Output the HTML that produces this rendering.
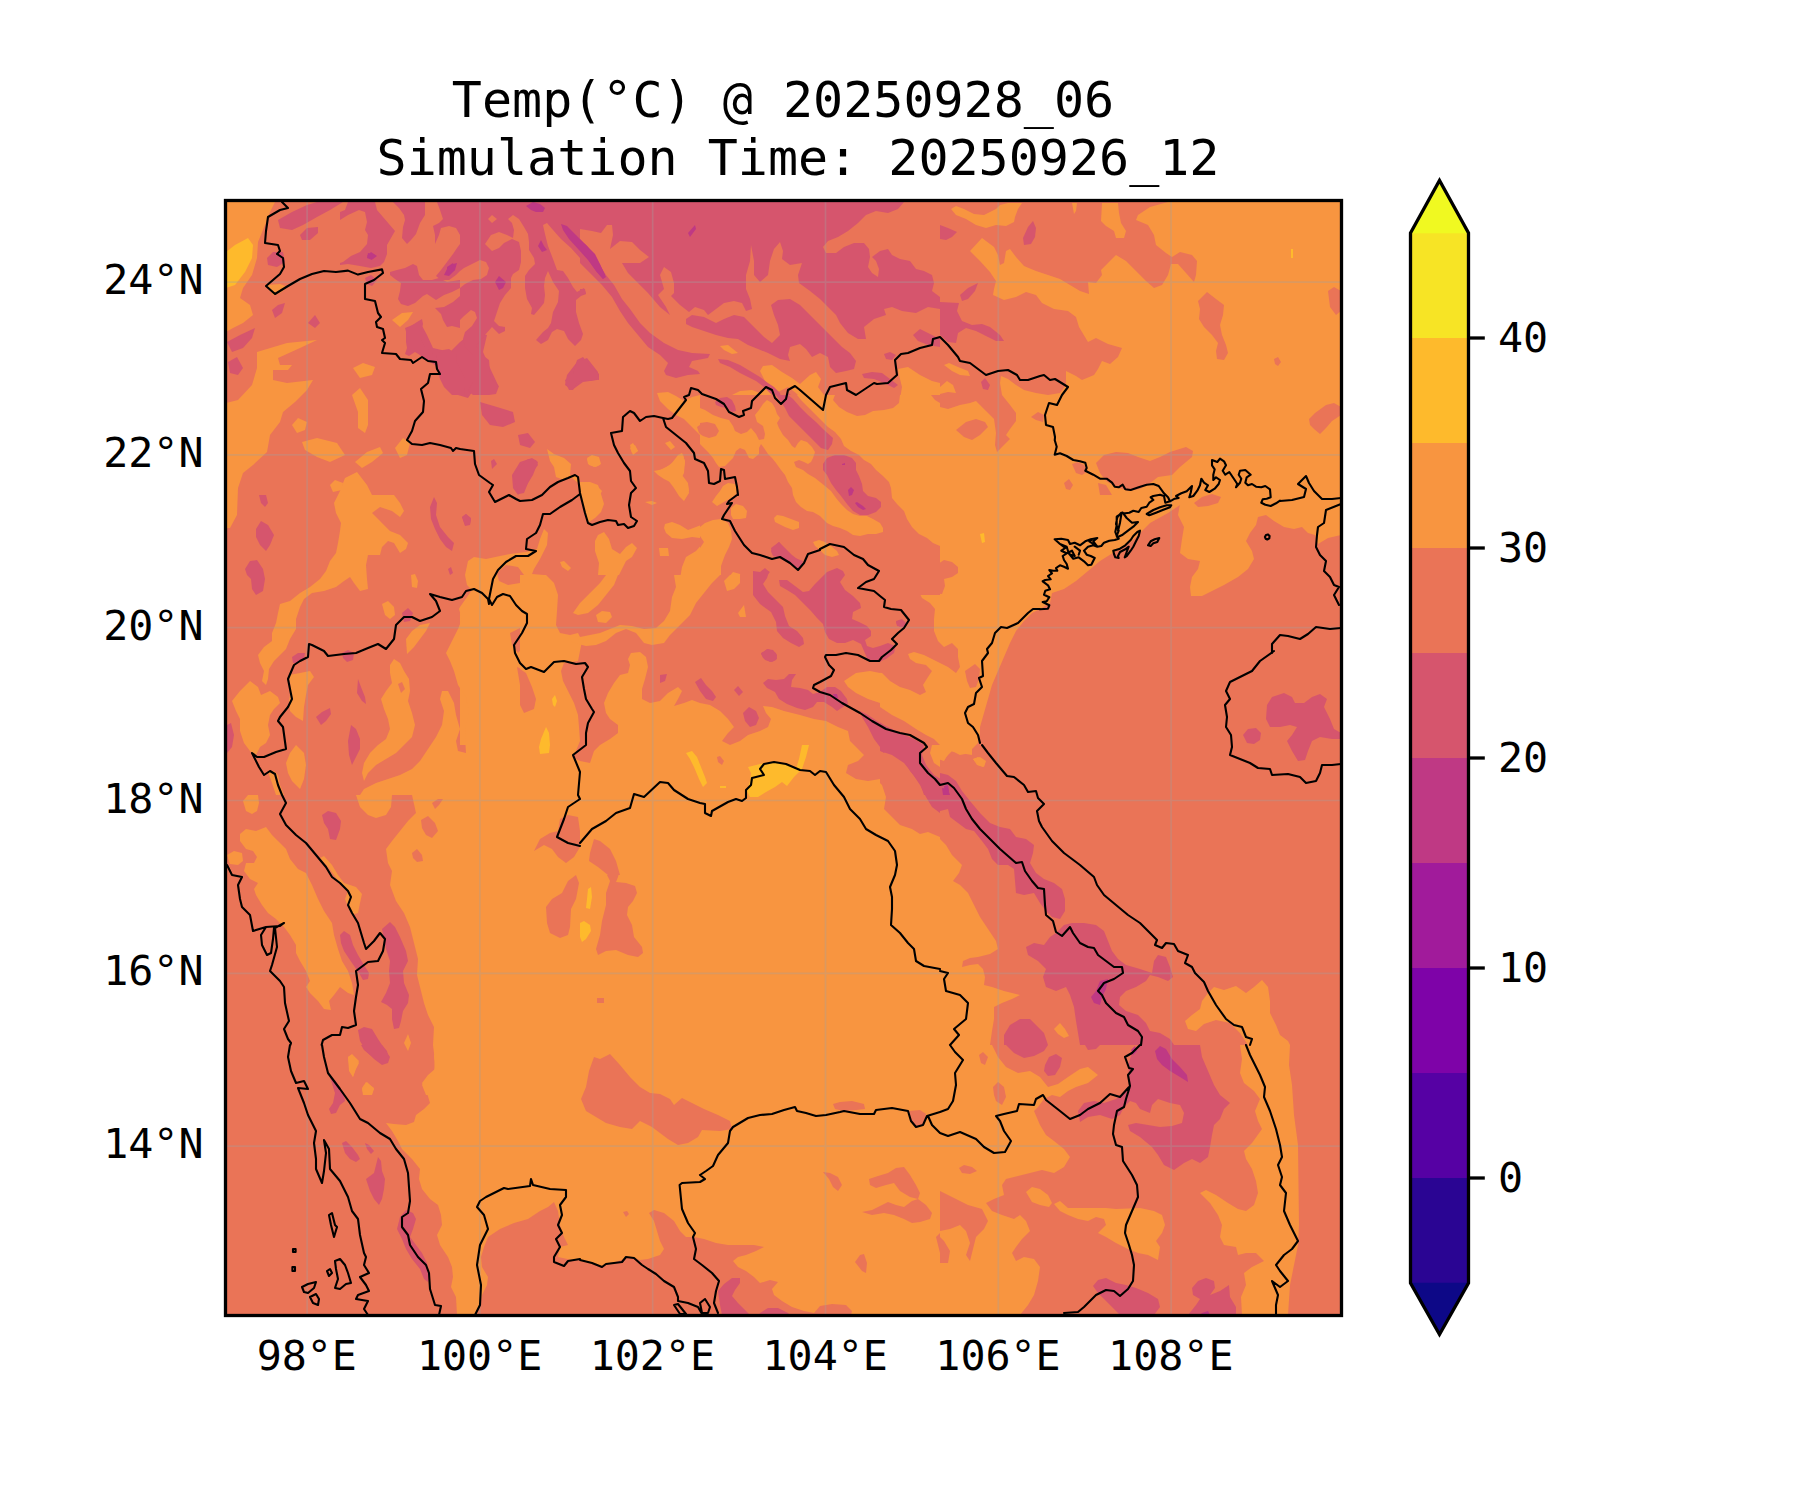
<!DOCTYPE html>
<html><head><meta charset="utf-8"><title>Temp map</title>
<style>
html,body{margin:0;padding:0;background:#fff;}
body{width:1800px;height:1500px;overflow:hidden;}
svg{display:block;}
text{font-family:"DejaVu Sans Mono","Liberation Mono",monospace;fill:#000;}
.t{font-size:50px;text-anchor:middle;}
.k{font-size:41.67px;}
</style></head><body>
<svg width="1800" height="1500" viewBox="0 0 1800 1500">
<rect width="1800" height="1500" fill="#fff"/>
<clipPath id="c"><rect x="225.5" y="200.5" width="1116.0" height="1115.0"/></clipPath>
<g clip-path="url(#c)">
<rect x="225.5" y="200.5" width="1116.0" height="1115.0" fill="#ea7457"/>
<path d="M226 202 275 202 270 212 265 225 258 242 257 258 252 275 243 288 240 298 250 305 253 315 243 323 233 328 226 332Z" fill="#f89540"/>
<path d="M267 285 280 284 288 287 280 293 273 295Z" fill="#f89540"/>
<path d="M257 352 287 343 317 340 300 348 278 358 280 365 292 365 288 370 273 370 273 380 287 383 313 380 307 390 295 402 283 412 280 422 270 435 267 452 253 465 243 473 238 488 237 515 230 528 226 528 226 403 238 400 252 385 257 368Z" fill="#f89540"/>
<path d="M292 425 298 418 307 422 305 430 297 433Z" fill="#f89540"/>
<path d="M302 442 317 438 337 443 345 455 330 462 317 457 305 450Z" fill="#f89540"/>
<path d="M355 462 367 452 380 447 383 453 372 462 362 468Z" fill="#f89540"/>
<path d="M395 448 403 438 410 443 407 455 400 458Z" fill="#f89540"/>
<path d="M352 395 360 388 368 400 368 425 365 433 358 428 358 412Z" fill="#f89540"/>
<path d="M353 368 363 363 375 367 372 375 360 378Z" fill="#f89540"/>
<path d="M392 320 402 313 413 312 408 320 400 327Z" fill="#f89540"/>
<path d="M330 485 335 480 343 483 342 490 333 492Z" fill="#f89540"/>
<path d="M940 745 972 745 970 753 960 755 952 751 946 757 940 759Z" fill="#f89540"/>
<path d="M973 759 978 757 985 763 983 767 977 765Z" fill="#f89540"/>
<path d="M940 839 946 845 952 855 962 865 959 873 953 881 960 885 968 893 974 905 980 917 988 929 996 941 998 949 990 954 978 957 970 958 963 961 962 967 970 965 978 964 983 969 985 977 984 985 992 987 1004 991 1020 995 1012 999 1002 1003 994 1007 994 1019 992 1031 990 1045 940 1045Z" fill="#f89540"/>
<path d="M1214 987 1224 990 1236 986 1246 993 1254 987 1262 980 1268 987 1270 1001 1270 1013 1276 1025 1280 1035 1288 1041 1290 1045 1248 1045 1240 1033 1230 1023 1216 1020 1204 1024 1196 1031 1188 1029 1185 1021 1192 1015 1200 1009 1202 1001 1208 993Z" fill="#f89540"/>
<path d="M1054 1029 1060 1023 1065 1029 1069 1036 1064 1038 1058 1034Z" fill="#f89540"/>
<path d="M435 1045 434 1057 435 1069 428 1075 422 1083 427 1093 430 1103 424 1109 416 1115 414 1122 406 1125 394 1124 386 1123 392 1131 398 1141 402 1149 412 1159 420 1169 419 1179 422 1189 430 1199 438 1205 441 1215 442 1225 437 1235 440 1245 448 1257 452 1267 453 1277 451 1287 456 1297 457 1315 475 1315 480 1305 482 1295 487 1285 488 1277 482 1267 481 1257 484 1247 488 1237 500 1229 514 1223 528 1219 540 1211 548 1207 554 1202 558 1211 560 1225 564 1237 568 1245 560 1247 558 1257 572 1260 580 1259 580 1045Z" fill="#f89540"/>
<path d="M348 1057 352 1054 359 1061 356 1067 353 1077 350 1071Z" fill="#f89540"/>
<path d="M362 1088 366 1082 374 1088 372 1093 363 1092Z" fill="#f89540"/>
<path d="M580 1045 940 1045 940 1315 580 1315Z" fill="#f89540"/>
<path d="M940 1045 992 1045 998 1057 1006 1067 1018 1073 1030 1071 1040 1077 1048 1087 1058 1084 1068 1077 1080 1069 1088 1067 1098 1075 1088 1083 1076 1087 1068 1091 1060 1097 1052 1095 1044 1099 1038 1107 1034 1111 1040 1125 1046 1135 1054 1141 1064 1149 1070 1157 1064 1167 1054 1173 1042 1170 1030 1173 1018 1176 1006 1179 1002 1185 1004 1195 994 1199 986 1203 992 1211 1002 1215 1014 1219 1020 1215 1026 1221 1030 1231 1022 1239 1016 1247 1012 1253 1016 1261 1024 1257 1034 1259 1040 1267 1038 1281 1034 1295 1028 1305 1020 1315 940 1315Z" fill="#f89540"/>
<path d="M1026 1192 1032 1187 1040 1189 1048 1195 1052 1203 1049 1207 1040 1205 1032 1202Z" fill="#f89540"/>
<path d="M1054 1204 1060 1201 1068 1208 1080 1208 1096 1208 1106 1208 1116 1209 1140 1208 1154 1211 1162 1215 1165 1225 1162 1233 1156 1241 1160 1247 1158 1260 1148 1255 1138 1253 1128 1249 1116 1243 1106 1237 1098 1233 1106 1225 1104 1219 1096 1217 1088 1221 1078 1219 1068 1215 1060 1211Z" fill="#f89540"/>
<path d="M1240 1045 1290 1045 1289 1065 1292 1085 1294 1115 1298 1145 1299 1225 1298 1245 1294 1265 1290 1285 1288 1315 1242 1315 1241 1297 1246 1285 1244 1273 1252 1267 1264 1261 1256 1253 1246 1253 1238 1255 1236 1247 1224 1245 1220 1237 1222 1225 1218 1215 1210 1203 1200 1193 1206 1190 1216 1195 1228 1203 1238 1209 1246 1211 1254 1205 1258 1193 1256 1181 1252 1169 1246 1159 1244 1151 1252 1143 1262 1129 1258 1121 1255 1111 1260 1099 1254 1091 1244 1083 1240 1073 1242 1059Z" fill="#f89540"/>
<path d="M547 449 554 454 564 458 571 464 570 475 577 475 580 482 590 482 598 485 601 494 604 504 601 512 595 518 589 522 585 515 583 505 581 495 578 483 572 478 564 480 556 477 554 467 550 461Z" fill="#f89540"/>
<path d="M587 458 592 455 599 457 601 464 596 467 589 465Z" fill="#f89540"/>
<path d="M630 448 635 445 638 451 633 455Z" fill="#f89540"/>
<path d="M658 471 670 465 678 457 683 454 685 463 682 475 688 483 689 493 684 501 679 496 674 488 668 480 662 477Z" fill="#f89540"/>
<path d="M645 502 652 501 657 503 652 505Z" fill="#f89540"/>
<path d="M713 501 722 489 728 485 730 493 726 503 729 505 740 504 746 509 746 519 738 522 730 524 731 533 730 545 724 557 722 569 714 583 704 595 696 605 688 615 680 625 672 635 666 643 652 645 646 649 644 639 636 631 650 629 660 625 668 617 672 609 670 601 676 589 680 579 682 567 686 557 696 551 703 543 700 538 692 537 682 539 672 538 666 533 664 528 665 524 672 522 680 525 688 530 696 527 706 523 716 518 722 513 720 507Z" fill="#f89540"/>
<path d="M598 535 604 532 609 539 612 549 620 554 626 547 632 543 637 548 632 557 626 561 620 573 614 585 606 595 596 603 588 611 580 615 574 611 576 605 584 597 592 587 598 575 599 563 595 551 595 541Z" fill="#f89540"/>
<path d="M659 548 668 548 669 556 660 556Z" fill="#f89540"/>
<path d="M596 616 602 611 610 611 612 617 606 623 598 622Z" fill="#f89540"/>
<path d="M560 562 564 561 571 568 568 571 562 567Z" fill="#f89540"/>
<path d="M725 581 732 573 740 573 741 579 736 587 729 590Z" fill="#f89540"/>
<path d="M738 613 744 605 746 617 741 617Z" fill="#f89540"/>
<path d="M774 516 782 515 798 522 799 529 790 529 778 524Z" fill="#f89540"/>
<path d="M460 607 472 590 467 585 465 575 468 561 474 557 486 559 500 556 510 554 526 552 537 549 540 539 544 529 548 533 547 545 540 559 534 569 532 574 544 575 554 581 558 593 558 605 557 619 558 631 554 643 544 649 539 655 540 660 552 661 564 657 576 653 588 647 600 645 608 639 616 631 626 628 633 632 630 638 618 643 608 647 600 649 588 651 578 655 580 663 584 681 585 701 588 721 586 745 460 745Z" fill="#f89540"/>
<path d="M604 703 608 695 612 683 620 673 628 675 631 672 627 661 630 653 638 651 646 657 648 667 644 679 641 691 642 701 652 705 664 701 672 691 678 686 683 691 678 700 674 707 682 705 692 701 708 703 720 709 728 717 734 727 728 731 722 741 726 745 620 745 618 733 610 725 604 713Z" fill="#f89540"/>
<path d="M762 705 772 707 784 713 800 717 820 721 820 745 772 745 770 733 772 721 766 713Z" fill="#f89540"/>
<path d="M720 346 728 345 738 353 732 354 724 350Z" fill="#f89540"/>
<path d="M657 393 668 392 676 396 684 401 692 397 700 395 710 399 718 405 728 411 734 405 732 395 740 391 752 390 760 393 767 387 764 379 760 371 763 366 772 365 782 372 792 378 800 384 810 375 816 372 821 379 818 387 824 395 834 405 844 410 854 415 864 417 876 411 888 409 898 407 900 399 902 387 899 375 898 369 908 367 920 375 932 381 940 383 940 495 792 495 784 485 776 475 772 463 764 455 756 447 750 453 746 461 740 455 736 447 730 453 724 461 716 453 708 443 700 435 692 427 684 419 676 415 668 409 660 401Z" fill="#f89540"/>
<path d="M587 459 592 455 599 459 600 465 594 467 588 464Z" fill="#f89540"/>
<path d="M630 445 633 443 638 451 632 453Z" fill="#f89540"/>
<path d="M665 443 670 441 675 447 671 450Z" fill="#f89540"/>
<path d="M654 471 664 469 672 463 678 455 682 453 685 461 684 473 680 481 688 485 689 491 680 491 672 483 664 479 658 475Z" fill="#f89540"/>
<path d="M580 483 588 482 596 485 602 491 600 495 580 495Z" fill="#f89540"/>
<path d="M718 473 726 471 734 477 738 495 720 495 716 483Z" fill="#f89540"/>
<path d="M1168 202 1150 207 1138 215 1136 220 1148 225 1154 235 1156 245 1166 253 1172 257 1180 252 1192 255 1197 261 1196 275 1194 282 1186 273 1178 264 1171 264 1168 275 1162 285 1154 288 1146 281 1136 271 1126 261 1116 255 1108 263 1101 270 1102 275 1096 283 1088 282 1089 294 1080 291 1070 285 1060 279 1048 275 1036 271 1024 266 1016 257 1010 249 1006 251 1004 263 1000 265 998 255 994 247 982 238 970 251 980 261 990 272 996 281 994 289 993 295 1004 300 1016 297 1026 292 1036 295 1042 303 1054 309 1068 311 1076 317 1079 327 1088 342 1096 338 1108 344 1122 348 1118 357 1110 364 1102 361 1098 369 1094 375 1082 380 1076 376 1066 371 1066 385 1060 393 1048 395 1036 393 1024 390 1016 385 1008 379 1001 376 1000 383 1002 395 1010 405 1016 413 1016 421 1010 429 1006 435 1010 439 1002 447 997 452 995 445 996 433 994 419 986 411 976 401 970 403 960 405 948 409 940 407 940 495 1300 495 1300 202Z" fill="#f89540"/>
<path d="M951 209 956 206 964 209 974 214 984 215 996 209 1000 205 1008 203 1022 203 1018 209 1015 217 1014 222 1006 226 996 225 986 228 976 225 966 219 956 215Z" fill="#f89540"/>
<path d="M1072 203 1077 203 1076 211 1074 214Z" fill="#f89540"/>
<path d="M1102 203 1118 203 1119 213 1121 223 1126 231 1124 238 1116 238 1114 231 1106 226 1101 221Z" fill="#f89540"/>
<path d="M944 365 949 363 958 367 968 371 970 376 960 375 952 371Z" fill="#f89540"/>
<path d="M940 387 947 381 953 385 956 393 948 392 940 394Z" fill="#f89540"/>
<path d="M886 495 1180 495 1180 505 1168 513 1150 523 1140 533 1132 541 1116 551 1100 561 1088 571 1076 581 1064 589 1052 593 1050 603 1040 609 1032 613 1024 621 1016 631 1010 643 1004 657 998 671 992 685 988 699 984 713 980 727 980 735 978 743 972 749 972 755 960 753 950 751 944 761 938 759 936 751 940 745 934 739 926 735 916 729 904 721 892 715 880 707 870 699 860 693 850 687 844 681 852 678 864 677 870 672 882 673 890 681 900 687 910 690 920 695 926 692 923 685 928 677 932 671 926 665 916 663 910 659 908 654 914 652 924 655 936 661 948 667 956 673 960 667 958 657 958 649 952 643 944 647 938 641 934 631 934 619 935 609 930 603 922 598 920 594 932 593 942 594 945 586 944 579 952 577 958 573 958 567 952 562 944 560 938 564 931 565 926 561 932 555 936 549 932 543 924 539 916 533 910 523 906 513 900 505 896 501Z" fill="#f89540"/>
<path d="M820 495 826 495 832 501 838 511 846 519 856 525 868 529 880 528 884 531 878 535 866 536 852 540 840 545 828 547 820 543Z" fill="#f89540"/>
<path d="M820 549 828 548 832 552 826 555 820 555Z" fill="#f89540"/>
<path d="M820 731 830 729 840 735 848 731 854 741 860 751 866 761 860 765 852 763 846 769 850 777 860 779 872 783 880 789 882 795 820 795Z" fill="#f89540"/>
<path d="M973 759 980 757 986 761 984 767 978 765Z" fill="#f89540"/>
<path d="M1176 491 1341 491 1341 535 1328 538 1318 544 1315 535 1308 533 1302 527 1294 529 1284 527 1274 521 1266 515 1258 517 1256 525 1250 533 1246 541 1252 551 1254 559 1248 569 1238 577 1224 585 1212 591 1202 596 1191 596 1190 587 1192 577 1198 569 1200 561 1188 559 1180 553 1182 539 1184 527 1178 515 1180 504Z" fill="#f89540"/>
<path d="M1300 195 1341 195 1341 495 1300 495Z" fill="#f89540"/>
<path d="M227 495 236 495 235 507 233 521 227 523Z" fill="#f89540"/>
<path d="M334 503 340 491 345 478 357 472 367 485 372 495 394 495 400 503 404 511 400 517 392 511 380 507 372 513 380 521 390 531 400 535 408 543 406 549 400 553 394 543 388 541 382 547 380 555 368 555 366 565 367 579 368 589 360 591 354 583 350 577 344 581 336 587 324 591 312 593 304 599 300 607 296 619 296 629 290 639 286 649 280 655 274 661 269 669 268 679 266 685 262 681 264 671 260 663 258 655 264 647 272 641 272 633 276 623 278 613 280 604 290 601 300 593 310 587 320 579 326 571 330 561 336 553 338 543 340 531 341 523 336 513Z" fill="#f89540"/>
<path d="M411 575 415 574 418 581 417 588 412 587Z" fill="#f89540"/>
<path d="M382 604 388 601 394 607 395 615 390 619 385 615Z" fill="#f89540"/>
<path d="M406 639 412 631 420 625 430 623 426 631 420 639 414 647 407 654Z" fill="#f89540"/>
<path d="M232 701 240 691 250 681 258 687 261 695 270 691 278 697 280 703 274 709 270 715 268 725 270 735 266 743 260 747 256 755 250 751 244 743 240 731 240 719 236 711Z" fill="#f89540"/>
<path d="M289 675 300 673 310 671 314 677 308 685 306 695 304 707 303 721 296 717 290 711 289 701 291 689Z" fill="#f89540"/>
<path d="M286 763 290 753 296 745 304 753 306 765 304 779 300 789 292 781 288 773Z" fill="#f89540"/>
<path d="M390 665 394 659 400 663 404 671 409 679 410 691 408 701 412 713 415 725 412 737 404 745 396 753 386 759 376 765 368 773 364 781 362 773 364 763 370 753 378 745 386 739 390 729 388 719 384 709 381 699 386 691 392 683 390 673Z" fill="#f89540"/>
<path d="M460 607 459 609 462 619 458 629 452 641 446 653 450 661 454 671 458 685 466 697 469 713 466 725 465 737 466 753 458 751 456 741 460 729 456 715 454 703 448 691 442 691 440 699 444 711 442 725 436 737 428 749 420 761 412 769 400 775 388 779 376 783 364 789 360 795 580 795 580 607Z" fill="#f89540"/>
<path d="M268 772 274 771 278 775 280 785 284 795 276 795 272 783Z" fill="#f89540"/>
<path d="M412 795 416 813 408 821 400 831 392 841 386 849 388 863 392 871 390 885 396 901 404 913 410 927 414 943 418 959 417 975 420 987 424 1003 428 1015 434 1027 433 1045 435 1061 434 1073 426 1079 422 1085 426 1095 580 1095 580 795Z" fill="#f89540"/>
<path d="M356 795 392 795 391 807 386 815 376 818 368 815 360 807Z" fill="#f89540"/>
<path d="M243 801 248 795 258 795 259 803 257 811 252 814 246 811Z" fill="#f89540"/>
<path d="M227 855 234 851 242 853 243 861 238 865 230 864Z" fill="#f89540"/>
<path d="M240 834 246 829 256 831 266 827 272 835 278 841 286 849 290 859 298 869 306 873 312 885 318 899 324 911 332 923 334 935 338 949 342 961 348 971 352 983 354 995 348 993 340 987 334 995 329 1001 331 1010 324 1009 318 1001 310 993 306 987 310 981 306 971 300 961 296 953 296 945 290 935 284 927 276 919 268 913 262 905 256 895 254 889 258 883 250 879 244 871 246 863 254 863 257 857 253 851 246 849 240 841Z" fill="#f89540"/>
<path d="M320 858 324 856 332 865 338 875 344 883 356 887 362 894 360 903 358 913 352 915 348 907 345 899 348 891 340 883 334 875 328 867Z" fill="#f89540"/>
<path d="M348 1057 352 1055 359 1063 356 1069 353 1077 349 1071Z" fill="#f89540"/>
<path d="M404 1043 408 1034 411 1043 408 1051Z" fill="#f89540"/>
<path d="M362 1089 367 1082 374 1089 372 1095 363 1095Z" fill="#f89540"/>
<path d="M580 745 940 745 940 1045 580 1045Z" fill="#f89540"/>
<path d="M581 1099 586 1087 589 1071 594 1057 600 1059 610 1054 620 1065 630 1077 640 1087 650 1093 660 1094 670 1099 674 1105 682 1098 692 1103 704 1109 718 1115 730 1121 732 1129 720 1131 702 1130 698 1137 688 1143 678 1145 668 1139 660 1133 652 1127 640 1121 632 1129 620 1127 606 1123 596 1117 586 1111Z" fill="#ea7457"/>
<path d="M580 1261 592 1264 602 1266 612 1263 624 1259 632 1257 640 1260 648 1259 660 1255 664 1249 660 1241 657 1231 654 1221 649 1213 654 1210 664 1213 674 1221 680 1231 686 1237 694 1237 704 1239 716 1243 728 1245 740 1245 754 1245 764 1247 756 1251 746 1255 738 1257 733 1261 738 1267 746 1271 754 1277 760 1283 770 1280 778 1282 772 1289 774 1295 782 1301 792 1307 804 1311 814 1313 820 1306 832 1304 846 1305 852 1311 851 1315 580 1315Z" fill="#ea7457"/>
<path d="M823 1172 830 1173 838 1177 842 1185 838 1191 833 1187 829 1179Z" fill="#ea7457"/>
<path d="M869 1179 878 1176 888 1173 896 1168 904 1167 910 1175 916 1185 920 1193 918 1199 910 1197 900 1191 894 1183 886 1185 876 1188 870 1185Z" fill="#ea7457"/>
<path d="M862 1212 872 1210 882 1205 888 1202 896 1205 904 1207 912 1201 918 1199 926 1205 932 1213 930 1219 920 1222 912 1223 904 1219 894 1215 884 1213 872 1215Z" fill="#ea7457"/>
<path d="M855 1262 860 1255 864 1254 867 1263 866 1273 862 1271Z" fill="#ea7457"/>
<path d="M833 1104 840 1102 852 1101 864 1104 865 1109 856 1110 844 1111 835 1109Z" fill="#ea7457"/>
<path d="M909 1111 920 1110 926 1114 924 1123 918 1127 912 1123Z" fill="#ea7457"/>
<path d="M936 1237 940 1233 940 1253Z" fill="#ea7457"/>
<path d="M623 1212 627 1211 629 1214 626 1217Z" fill="#ea7457"/>
<path d="M940 1191 956 1199 968 1205 982 1209 988 1221 984 1229 976 1237 970 1261 966 1255 970 1243 966 1231 960 1225 950 1229 940 1231Z" fill="#ea7457"/>
<path d="M940 1237 944 1241 950 1251 948 1263 940 1263Z" fill="#ea7457"/>
<path d="M959 1168 964 1165 972 1167 977 1171 970 1174 962 1173Z" fill="#ea7457"/>
<path d="M979 1055 983 1052 988 1057 985 1065 981 1063Z" fill="#ea7457"/>
<path d="M993 1087 998 1082 1004 1087 1006 1097 1002 1105 996 1101 994 1095Z" fill="#ea7457"/>
<path d="M497 573 506 565 518 567 524 575 520 583 508 585 499 581Z" fill="#ea7457"/>
<path d="M510 633 520 628 540 629 536 637 526 643 518 653 512 645Z" fill="#ea7457"/>
<path d="M517 667 526 671 532 685 536 699 534 709 524 713 521 701 520 685Z" fill="#ea7457"/>
<path d="M560 669 568 665 580 665 583 681 584 701 588 721 586 745 578 745 577 725 572 713 568 705 569 695 566 685 562 677Z" fill="#ea7457"/>
<path d="M697 427 704 422 714 425 719 433 714 438 704 437 699 433Z" fill="#ea7457"/>
<path d="M772 393 780 391 788 387 796 393 806 403 816 415 826 427 836 439 840 447 834 453 822 449 810 439 798 427 788 417 780 407 774 401Z" fill="#ea7457"/>
<path d="M732 423 740 419 750 421 760 427 764 435 760 441 750 437 740 431 734 428Z" fill="#ea7457"/>
<path d="M818 463 828 451 844 451 858 457 864 469 866 483 868 495 834 495 826 483 820 473Z" fill="#ea7457"/>
<path d="M792 461 800 459 810 465 820 475 826 485 830 495 820 495 812 485 802 475 794 467Z" fill="#ea7457"/>
<path d="M956 430 966 422 976 419 985 422 988 427 980 435 972 440 964 437Z" fill="#ea7457"/>
<path d="M1072 464 1078 462 1084 465 1088 471 1082 475 1076 473Z" fill="#ea7457"/>
<path d="M1096 463 1104 455 1116 452 1128 453 1138 457 1150 461 1160 457 1170 452 1186 447 1193 451 1192 457 1180 467 1172 475 1158 477 1150 483 1140 489 1128 491 1116 487 1106 481 1100 473Z" fill="#ea7457"/>
<path d="M1098 483 1106 485 1112 495 1100 495Z" fill="#ea7457"/>
<path d="M1064 483 1069 479 1073 485 1070 490 1066 489Z" fill="#ea7457"/>
<path d="M1198 301 1207 292 1216 299 1224 305 1223 315 1220 325 1222 335 1226 345 1228 353 1224 360 1217 359 1216 351 1218 343 1212 335 1204 327 1199 319 1200 309Z" fill="#ea7457"/>
<path d="M1274 359 1278 357 1281 362 1278 366 1275 364Z" fill="#ea7457"/>
<path d="M1031 417 1038 412 1044 415 1043 422 1036 420Z" fill="#ea7457"/>
<path d="M965 671 975 664 980 669 979 679 976 687 970 688 967 681Z" fill="#ea7457"/>
<path d="M832 495 888 495 890 507 884 519 870 523 856 521 844 513 836 503Z" fill="#ea7457"/>
<path d="M1309 419 1315 413 1326 405 1334 403 1341 407 1341 415 1332 421 1326 428 1320 434 1314 429 1310 425Z" fill="#ea7457"/>
<path d="M1328 291 1334 287 1341 291 1341 311 1336 315 1330 307Z" fill="#ea7457"/>
<path d="M1194 503 1202 497 1212 494 1221 497 1218 503 1208 506 1198 507Z" fill="#ea7457"/>
<path d="M398 684 402 682 405 689 401 693Z" fill="#ea7457"/>
<path d="M421 820 428 816 435 823 438 831 432 838 426 835 422 828Z" fill="#ea7457"/>
<path d="M412 853 417 849 422 855 423 861 417 862 413 858Z" fill="#ea7457"/>
<path d="M432 803 438 799 443 799 439 805 435 809Z" fill="#ea7457"/>
<path d="M534 851 538 841 548 835 558 833 560 821 568 815 578 817 580 835 580 847 578 849 574 857 566 862 558 859 553 849 546 844 540 847Z" fill="#ea7457"/>
<path d="M546 907 552 899 562 893 568 881 576 875 579 883 576 899 571 909 570 927 568 935 560 938 550 933 547 923Z" fill="#ea7457"/>
<path d="M856 745 864 751 860 757 848 763 846 771 854 777 864 781 876 779 882 785 886 797 884 809 892 817 900 825 912 829 920 834 928 832 940 837 940 745Z" fill="#ea7457"/>
<path d="M580 745 594 745 592 753 588 761 580 759Z" fill="#ea7457"/>
<path d="M589 861 595 839 604 841 612 847 617 859 620 869 618 877 616 882 626 883 635 886 637 893 633 901 628 907 627 915 632 925 634 937 642 947 643 953 638 957 628 955 616 950 606 951 598 955 596 949 600 935 602 921 606 905 606 893 610 881 606 873 598 865Z" fill="#ea7457"/>
<path d="M716 759 720 756 724 761 723 765 718 763Z" fill="#ea7457"/>
<path d="M768 745 780 745 778 751 772 750Z" fill="#ea7457"/>
<path d="M597 998 604 998 604 1003 597 1003Z" fill="#ea7457"/>
<path d="M932 745 940 745 940 767 934 763 930 753Z" fill="#f89540"/>
<path d="M227 342 240 335 255 328 252 338 243 348 232 352Z" fill="#d6556d"/>
<path d="M228 362 237 357 243 368 238 375 230 373Z" fill="#d6556d"/>
<path d="M272 310 278 305 285 303 282 313 275 318Z" fill="#d6556d"/>
<path d="M308 323 315 315 320 323 315 328Z" fill="#d6556d"/>
<path d="M278 220 292 212 307 205 317 202 343 202 330 210 317 217 303 225 292 230 280 228Z" fill="#d6556d"/>
<path d="M300 235 307 228 318 227 318 233 310 240 302 240Z" fill="#d6556d"/>
<path d="M267 258 273 252 283 252 285 262 277 267 268 265Z" fill="#d6556d"/>
<path d="M480 402 497 407 513 412 515 422 503 427 490 425 482 415Z" fill="#d6556d"/>
<path d="M518 435 528 433 535 442 530 448 520 445Z" fill="#d6556d"/>
<path d="M512 475 520 462 532 458 538 462 533 475 525 488 518 495 513 488Z" fill="#d6556d"/>
<path d="M567 375 577 362 587 358 598 372 597 380 583 382 572 390 565 385Z" fill="#d6556d"/>
<path d="M405 328 420 322 427 335 433 348 450 352 460 342 473 332 487 335 483 352 490 368 498 385 490 393 477 385 468 398 458 395 453 378 440 368 423 358 410 345Z" fill="#d6556d"/>
<path d="M940 773 948 775 956 781 962 791 970 801 980 813 990 823 1000 827 1010 829 1016 837 1026 839 1034 845 1033 853 1030 863 1036 873 1044 879 1054 883 1062 889 1065 899 1065 911 1060 919 1052 917 1046 911 1040 903 1034 893 1024 895 1016 893 1015 881 1014 869 1008 865 998 865 992 859 988 849 982 841 974 831 966 829 958 823 950 817 948 809 940 811Z" fill="#d6556d"/>
<path d="M1026 947 1034 943 1044 945 1050 937 1056 933 1064 925 1072 923 1084 923 1096 925 1104 931 1108 941 1112 951 1118 959 1126 965 1140 969 1152 973 1154 961 1158 955 1166 957 1170 967 1173 977 1168 981 1158 977 1150 975 1146 981 1136 987 1126 991 1120 997 1119 1005 1126 1011 1138 1015 1146 1023 1150 1031 1160 1033 1170 1039 1174 1045 1080 1045 1078 1033 1076 1021 1074 1007 1070 995 1066 987 1056 991 1046 987 1043 977 1046 969 1038 961 1028 955Z" fill="#d6556d"/>
<path d="M1004 1035 1010 1025 1020 1019 1030 1019 1036 1025 1044 1033 1048 1045 1004 1045Z" fill="#d6556d"/>
<path d="M1267 705 1272 697 1284 693 1292 697 1295 703 1304 703 1312 697 1320 694 1327 699 1324 707 1330 719 1334 729 1341 733 1341 739 1332 739 1320 737 1312 741 1308 751 1305 760 1298 761 1292 751 1287 741 1292 735 1297 727 1290 725 1280 727 1270 727 1266 719Z" fill="#d6556d"/>
<path d="M1243 735 1248 729 1256 728 1261 733 1260 740 1254 744 1247 743Z" fill="#d6556d"/>
<path d="M361 1045 382 1045 387 1051 389 1059 384 1064 378 1061 370 1055 364 1050Z" fill="#d6556d"/>
<path d="M329 1109 333 1103 335 1093 332 1083 330 1077 338 1085 344 1095 345 1101 340 1105 336 1113 331 1114Z" fill="#d6556d"/>
<path d="M342 1143 346 1141 352 1147 358 1155 360 1159 356 1162 350 1159 345 1153Z" fill="#d6556d"/>
<path d="M365 1143 369 1145 374 1151 371 1154 367 1149Z" fill="#d6556d"/>
<path d="M366 1179 374 1173 378 1157 381 1161 382 1171 385 1179 384 1189 382 1199 379 1205 374 1199 370 1191Z" fill="#d6556d"/>
<path d="M400 1217 406 1210 413 1213 416 1219 413 1229 410 1237 416 1245 422 1253 427 1263 429 1273 428 1282 424 1279 420 1269 412 1259 406 1249 402 1239 397 1229Z" fill="#d6556d"/>
<path d="M718 1291 724 1284 732 1278 740 1278 740 1283 735 1290 732 1296 738 1303 746 1311 750 1315 722 1315 720 1305Z" fill="#d6556d"/>
<path d="M760 1313 768 1308 778 1308 788 1313 790 1315 759 1315Z" fill="#d6556d"/>
<path d="M1078 1111 1084 1103 1094 1101 1104 1103 1116 1099 1126 1091 1130 1083 1128 1065 1132 1053 1140 1045 1200 1045 1202 1057 1208 1071 1214 1085 1220 1095 1230 1103 1224 1109 1220 1119 1214 1125 1212 1135 1210 1147 1208 1157 1200 1163 1192 1159 1184 1163 1174 1170 1164 1165 1158 1155 1152 1147 1140 1137 1130 1131 1128 1125 1136 1123 1148 1125 1160 1127 1172 1126 1182 1123 1184 1113 1180 1105 1170 1103 1158 1099 1152 1105 1150 1113 1140 1109 1136 1103 1130 1101 1124 1107 1120 1115 1112 1119 1100 1115 1088 1117 1080 1122Z" fill="#d6556d"/>
<path d="M1006 1045 1048 1045 1044 1051 1034 1056 1024 1058 1014 1053Z" fill="#d6556d"/>
<path d="M1085 1045 1100 1045 1096 1049 1088 1050Z" fill="#d6556d"/>
<path d="M1045 1065 1049 1057 1056 1054 1062 1058 1060 1067 1055 1075 1048 1076 1044 1071Z" fill="#d6556d"/>
<path d="M1093 1286 1098 1280 1106 1278 1116 1283 1126 1285 1136 1288 1148 1293 1158 1299 1160 1307 1154 1315 1120 1315 1112 1307 1104 1299 1098 1293Z" fill="#d6556d"/>
<path d="M1192 1288 1198 1281 1206 1278 1214 1281 1215 1288 1210 1295 1220 1291 1229 1285 1230 1297 1236 1307 1236 1315 1188 1315 1196 1305 1200 1299 1193 1295Z" fill="#d6556d"/>
<path d="M460 202 580 202 580 258 571 248 561 239 553 230 547 223 543 225 545 234 548 246 553 259 557 270 563 271 568 278 573 287 577 292 584 288 586 294 581 296 576 300 576 312 579 323 583 334 581 340 575 346 568 339 564 331 557 329 552 332 548 340 541 344 536 340 543 332 548 328 551 323 553 312 558 302 559 291 553 282 548 271 545 278 544 286 545 295 544 303 540 308 534 315 531 314 532 308 527 299 525 288 525 276 529 270 535 264 534 258 529 250 529 242 528 234 524 227 519 219 513 215 508 219 512 223 514 230 513 238 507 235 499 232 491 235 485 244 492 251 499 248 504 243 512 239 519 242 521 251 521 262 519 270 513 274 511 278 511 288 505 295 500 303 497 312 494 321 499 326 505 327 505 331 499 334 492 327 484 336 476 346 481 354 489 360 490 372 491 379 499 386 496 394 489 395 473 395 468 391 473 382 473 368 473 355 465 347 463 339 465 332 472 326 477 318 475 312 471 310 464 316 460 320 460 288 465 284 473 280 481 279 487 275 489 268 486 262 480 260 472 264 464 268 460 271Z" fill="#d6556d"/>
<path d="M565 380 573 374 577 360 583 357 588 363 595 370 599 374 599 380 592 379 584 379 577 383 573 390 569 390 567 386Z" fill="#d6556d"/>
<path d="M348 202 375 202 377 210 383 217 389 224 395 231 391 238 387 245 387 254 384 262 380 266 371 268 360 266 348 264 340 265 340 212 345 210Z" fill="#d6556d"/>
<path d="M393 202 425 202 425 215 420 223 416 234 411 240 407 244 402 238 403 227 405 220 404 215 399 208Z" fill="#d6556d"/>
<path d="M437 202 460 202 460 235 456 228 449 226 441 228 439 235 435 244 435 235 433 226 439 223 443 219 440 210Z" fill="#d6556d"/>
<path d="M460 244 457 248 453 254 447 262 441 270 436 276 441 280 449 280 456 275 460 271Z" fill="#d6556d"/>
<path d="M390 272 397 270 405 268 413 264 417 266 419 275 423 280 432 280 439 278 447 282 460 280 460 288 452 292 444 295 436 300 427 294 423 296 415 303 408 306 401 304 398 299 400 291 401 283 395 279 390 275Z" fill="#d6556d"/>
<path d="M435 308 444 307 453 302 460 296 460 328 452 326 447 327 443 320 441 314Z" fill="#d6556d"/>
<path d="M406 331 411 326 417 322 422 319 423 324 421 332 421 340 425 347 432 352 433 355 427 359 420 355 415 352 409 356 405 354 407 348 406 342Z" fill="#d6556d"/>
<path d="M436 355 443 350 449 349 456 354 457 363 461 371 465 379 465 387 464 395 452 395 444 387 440 379 437 368 438 362Z" fill="#d6556d"/>
<path d="M365 278 371 275 377 280 372 286 367 284Z" fill="#d6556d"/>
<path d="M513 475 520 467 528 459 536 460 538 465 532 473 528 483 524 493 519 494 516 485Z" fill="#d6556d"/>
<path d="M491 461 494 459 497 464 492 469Z" fill="#d6556d"/>
<path d="M462 517 466 514 471 519 470 525 465 526Z" fill="#d6556d"/>
<path d="M771 549 778 543 784 549 792 555 800 561 804 567 798 570 790 563 780 559 773 557Z" fill="#d6556d"/>
<path d="M754 577 764 569 770 573 762 581 760 591 766 599 778 605 784 615 790 623 798 631 804 639 800 647 790 645 782 639 777 631 778 621 772 613 762 605 756 597 754 585Z" fill="#d6556d"/>
<path d="M778 583 786 580 796 585 806 593 816 589 820 585 820 619 812 613 804 605 794 599 784 593Z" fill="#d6556d"/>
<path d="M761 653 768 649 776 653 777 660 770 662 763 658Z" fill="#d6556d"/>
<path d="M660 675 667 674 665 681 660 683Z" fill="#d6556d"/>
<path d="M695 683 701 678 705 685 712 691 716 697 714 701 708 700 702 693 697 688Z" fill="#d6556d"/>
<path d="M734 690 739 686 743 692 739 696 735 694Z" fill="#d6556d"/>
<path d="M743 713 749 707 756 711 759 717 756 725 750 727 745 721Z" fill="#d6556d"/>
<path d="M762 683 772 678 784 679 792 675 798 674 794 681 788 687 796 691 808 689 816 693 820 697 820 709 808 707 796 703 784 699 774 693 766 689Z" fill="#d6556d"/>
<path d="M580 202 580 229 592 231 601 233 607 225 612 225 613 235 610 249 620 241 632 242 640 250 649 257 640 263 622 263 628 273 638 283 648 293 660 307 670 315 666 307 658 295 664 289 660 275 664 267 671 272 674 283 674 293 671 296 680 305 689 312 695 307 704 310 708 315 716 309 724 303 734 301 742 303 746 311 752 309 750 299 746 289 746 275 750 261 751 245 754 261 754 275 760 282 768 275 770 261 774 249 780 242 783 251 782 259 790 265 802 263 798 275 799 283 810 291 820 299 828 307 836 315 840 323 848 333 858 339 866 339 864 327 874 319 886 315 884 309 892 307 902 311 916 313 928 307 940 309 940 297 932 291 934 283 932 275 924 271 916 269 910 261 900 259 892 255 888 249 880 251 872 257 876 261 879 269 878 277 872 273 868 267 870 257 869 249 864 243 854 243 844 247 836 253 826 253 823 247 828 241 838 237 848 231 858 223 866 215 876 211 888 213 898 209 904 202Z" fill="#d6556d"/>
<path d="M580 239 588 247 596 259 606 275 614 285 622 299 630 309 640 323 650 333 664 343 678 350 692 353 710 354 708 358 692 361 689 367 698 371 700 374 688 375 676 378 666 375 664 371 668 363 660 355 648 347 638 335 628 323 620 311 612 297 602 285 592 275 580 263Z" fill="#d6556d"/>
<path d="M686 319 692 315 704 317 716 323 724 319 734 315 744 317 750 323 756 329 764 337 772 343 780 335 778 325 774 315 771 305 778 300 790 299 800 305 808 313 818 323 826 331 834 339 842 347 850 353 856 361 854 369 846 371 836 373 830 367 828 357 820 353 812 357 806 349 800 344 790 347 788 355 790 361 780 359 768 353 758 349 748 345 738 339 728 338 716 335 704 331 692 327 686 324Z" fill="#d6556d"/>
<path d="M718 359 728 360 740 365 750 371 760 377 768 383 774 387 780 393 782 403 788 401 788 393 794 397 802 405 810 415 820 427 830 437 834 443 830 449 820 445 810 435 800 425 792 417 784 409 778 401 772 395 764 387 756 381 748 377 740 373 730 367 720 363Z" fill="#d6556d"/>
<path d="M716 397 724 397 732 401 736 407 738 413 732 411 724 405 718 402Z" fill="#d6556d"/>
<path d="M823 461 830 454 842 455 854 459 858 469 859 481 860 495 838 495 832 485 826 475 822 467Z" fill="#d6556d"/>
<path d="M580 359 588 365 598 373 599 379 590 381 580 380Z" fill="#d6556d"/>
<path d="M862 374 872 372 882 373 890 379 898 385 894 388 884 383 874 379 864 378Z" fill="#d6556d"/>
<path d="M884 354 890 352 896 355 892 360 886 359Z" fill="#d6556d"/>
<path d="M913 335 920 329 928 333 940 339 940 347 928 345 918 341Z" fill="#d6556d"/>
<path d="M580 289 585 289 586 294 580 295Z" fill="#d6556d"/>
<path d="M940 225 948 228 957 232 952 237 946 240 940 239Z" fill="#d6556d"/>
<path d="M1023 238 1028 227 1033 221 1036 228 1035 237 1031 244 1024 245Z" fill="#d6556d"/>
<path d="M960 295 968 288 978 283 975 291 968 299 962 301Z" fill="#d6556d"/>
<path d="M940 302 959 303 957 311 962 321 972 325 982 324 990 327 1000 335 1004 341 996 341 986 336 976 331 966 328 958 333 956 343 948 342 940 335Z" fill="#d6556d"/>
<path d="M981 382 985 378 990 385 988 390 983 389Z" fill="#d6556d"/>
<path d="M840 495 880 495 882 505 876 513 866 516 856 513 846 505Z" fill="#d6556d"/>
<path d="M820 575 828 571 836 569 840 579 848 589 856 597 862 605 854 613 852 621 860 627 868 631 872 639 868 647 876 651 886 649 896 645 894 653 886 659 876 663 866 661 856 653 846 647 836 643 828 643 820 644Z" fill="#d6556d"/>
<path d="M896 621 902 619 906 623 903 627 897 626Z" fill="#d6556d"/>
<path d="M820 687 830 685 840 690 848 699 844 707 836 710 828 703 820 697Z" fill="#d6556d"/>
<path d="M862 711 872 717 884 725 900 733 914 739 924 745 922 755 926 765 934 775 944 781 956 785 964 795 924 795 920 783 910 771 904 759 900 749 890 745 884 753 878 749 876 737 870 725Z" fill="#d6556d"/>
<path d="M259 495 266 495 268 503 265 507 261 503Z" fill="#d6556d"/>
<path d="M256 529 261 521 268 525 274 535 270 545 266 551 260 545 256 537Z" fill="#d6556d"/>
<path d="M245 569 250 561 257 560 263 569 265 579 263 591 256 595 252 589 251 579 247 575Z" fill="#d6556d"/>
<path d="M430 507 434 497 437 503 436 515 440 527 448 537 454 543 452 551 446 547 440 539 435 529 431 519Z" fill="#d6556d"/>
<path d="M462 517 466 514 471 518 470 524 465 525Z" fill="#d6556d"/>
<path d="M448 569 451 567 453 573 450 575Z" fill="#d6556d"/>
<path d="M402 613 408 608 413 613 410 621 404 622Z" fill="#d6556d"/>
<path d="M292 657 298 653 305 653 304 659 297 663 293 663Z" fill="#d6556d"/>
<path d="M342 653 348 650 354 653 353 660 347 662 343 658Z" fill="#d6556d"/>
<path d="M357 693 358 679 361 687 365 697 366 704 362 701Z" fill="#d6556d"/>
<path d="M316 717 322 712 330 708 331 714 326 721 321 725Z" fill="#d6556d"/>
<path d="M348 741 351 725 356 729 360 739 360 749 356 757 352 765 349 755Z" fill="#d6556d"/>
<path d="M227 725 231 723 234 735 232 747 227 753Z" fill="#d6556d"/>
<path d="M322 815 328 811 336 813 341 821 340 829 336 840 330 839 328 829 324 823Z" fill="#d6556d"/>
<path d="M340 935 344 931 350 935 353 945 358 955 364 965 369 973 368 979 363 980 359 973 352 963 344 951 341 943Z" fill="#d6556d"/>
<path d="M382 929 390 922 395 927 400 937 406 951 408 961 403 971 404 983 409 995 408 1003 403 1011 401 1021 399 1028 394 1029 392 1019 392 1009 387 1005 381 1002 386 993 390 983 389 971 390 961 386 949 384 939Z" fill="#d6556d"/>
<path d="M358 1030 364 1027 372 1029 378 1039 386 1051 390 1057 388 1063 382 1065 374 1059 366 1051 360 1041Z" fill="#d6556d"/>
<path d="M330 1077 336 1081 340 1089 344 1095 336 1095Z" fill="#d6556d"/>
<path d="M876 745 920 745 922 757 928 769 938 783 940 787 940 813 932 807 926 797 920 785 912 773 904 763 892 755 880 751Z" fill="#d6556d"/>
<path d="M488 219 492 215 497 219 492 223Z" fill="#ea7457"/>
<path d="M340 220 348 215 359 210 365 212 367 222 365 230 368 235 367 244 360 252 351 256 343 262 340 263Z" fill="#ea7457"/>
<path d="M368 253 375 255 372 260 367 258Z" fill="#bf3984"/>
<path d="M447 267 453 263 455 270 448 275Z" fill="#bf3984"/>
<path d="M944 786 948 785 949 791 945 793Z" fill="#bf3984"/>
<path d="M1100 981 1108 979 1106 989 1102 997 1100 1005 1094 1003 1091 997 1096 991Z" fill="#bf3984"/>
<path d="M1155 1051 1160 1046 1166 1049 1172 1059 1180 1067 1187 1075 1188 1082 1180 1077 1170 1071 1162 1065 1157 1059Z" fill="#bf3984"/>
<path d="M1131 1050 1135 1046 1137 1051 1133 1055Z" fill="#bf3984"/>
<path d="M1202 1313 1208 1311 1210 1315 1200 1315Z" fill="#bf3984"/>
<path d="M526 206 533 202 540 204 545 208 543 212 536 212 531 210Z" fill="#bf3984"/>
<path d="M538 246 541 240 544 246 547 250 542 252Z" fill="#bf3984"/>
<path d="M495 282 499 276 506 282 503 288 499 290Z" fill="#bf3984"/>
<path d="M561 224 567 226 576 235 587 246 595 254 600 264 605 275 603 279 596 271 588 260 579 250 569 239 563 230Z" fill="#bf3984"/>
<path d="M367 256 371 252 377 256 373 259Z" fill="#bf3984"/>
<path d="M444 275 448 267 453 264 457 263 455 270 449 276Z" fill="#bf3984"/>
<path d="M580 241 586 245 594 255 602 269 606 277 603 279 596 271 588 259 580 249Z" fill="#bf3984"/>
<path d="M688 233 695 225 696 229 690 237Z" fill="#bf3984"/>
<path d="M848 488 852 487 853 493 849 494Z" fill="#bf3984"/>
<path d="M855 502 860 501 866 507 863 510 858 507Z" fill="#bf3984"/>
<path d="M832 696 837 695 838 699 834 700Z" fill="#bf3984"/>
<path d="M942 788 948 789 950 795 943 795Z" fill="#bf3984"/>
<path d="M226 252 235 245 248 238 253 245 252 258 245 272 235 285 226 288Z" fill="#feba2c"/>
<path d="M552 699 555 695 557 701 555 707 552 705Z" fill="#feba2c"/>
<path d="M543 739 547 725 550 733 552 745 542 745Z" fill="#feba2c"/>
<path d="M1291 249 1293 249 1293 258 1291 258Z" fill="#feba2c"/>
<path d="M980 534 984 533 985 542 982 543Z" fill="#feba2c"/>
<path d="M539 753 540 745 545 735 547 725 549 735 550 747 548 754Z" fill="#feba2c"/>
<path d="M686 753 692 751 697 757 701 767 705 777 707 783 704 788 701 782 696 771 691 762Z" fill="#feba2c"/>
<path d="M720 786 726 786 726 788 720 788Z" fill="#feba2c"/>
<path d="M748 767 758 764 764 763 772 765 784 767 796 769 800 757 802 745 809 745 806 755 803 765 800 773 792 779 787 787 782 782 775 787 766 792 758 797 750 797 747 791 750 781 751 773Z" fill="#feba2c"/>
<path d="M588 889 591 887 592 897 590 909 586 908 587 899Z" fill="#feba2c"/>
<path d="M580 923 584 921 590 925 591 931 586 939 582 942 580 937Z" fill="#feba2c"/>
<path d="M700 395 940 395 940 595 700 595Z" fill="#ea7457"/>
<path d="M700 408 705 410 713 415 721 418 729 420 733 426 735 431 741 434 747 432 751 428 756 434 759 440 764 439 765 434 763 426 757 422 755 415 759 410 763 404 767 400 772 403 775 408 777 414 780 418 777 423 779 428 783 435 788 440 792 446 795 448 798 443 801 440 807 442 812 447 815 452 813 458 811 462 808 464 804 462 799 460 794 462 796 467 803 470 808 474 815 478 820 482 825 486 831 491 836 498 841 504 847 510 853 514 860 516 867 516 873 519 880 523 883 528 883 532 876 534 868 534 860 536 853 535 847 531 840 528 833 526 827 523 820 516 813 512 807 511 801 507 796 502 793 495 792 488 788 482 785 475 781 470 776 463 772 458 768 454 764 448 761 444 759 448 759 454 753 459 749 458 745 450 740 448 736 451 733 458 729 462 725 466 719 467 716 463 713 458 708 452 703 447 700 444Z" fill="#f89540"/>
<path d="M723 486 728 483 735 484 739 488 736 494 731 498 724 502 717 506 712 502 716 496 720 491Z" fill="#f89540"/>
<path d="M731 508 736 504 743 506 747 511 746 518 740 519 733 519 731 515Z" fill="#f89540"/>
<path d="M774 518 777 515 783 516 791 519 799 522 799 528 793 530 785 527 779 524 775 522Z" fill="#f89540"/>
<path d="M813 542 819 540 825 542 831 546 837 551 839 555 832 557 825 555 820 550 815 546Z" fill="#f89540"/>
<path d="M700 527 705 523 713 520 721 519 728 523 731 530 732 539 729 547 725 555 721 566 721 575 724 584 727 592 729 595 700 595 700 548 704 542 700 536Z" fill="#f89540"/>
<path d="M725 584 728 578 733 572 740 574 741 579 739 586 733 591 728 592Z" fill="#f89540"/>
<path d="M797 395 835 395 833 400 839 407 847 412 857 416 865 415 873 411 884 410 893 408 899 403 900 395 940 395 940 546 933 543 927 538 919 534 912 527 907 519 904 511 897 504 892 498 891 488 889 482 883 476 876 470 871 464 864 460 859 455 851 451 844 446 841 439 835 432 828 427 823 422 816 415 808 407 801 400Z" fill="#f89540"/>
<path d="M700 423 707 422 715 424 719 431 716 436 709 438 703 436 700 434Z" fill="#ea7457"/>
<path d="M931 395 940 395 940 403 935 400Z" fill="#ea7457"/>
<path d="M715 402 720 398 727 397 732 400 735 406 736 411 732 412 727 408 721 407 716 405Z" fill="#d6556d"/>
<path d="M776 395 788 395 793 399 800 407 808 415 816 422 824 430 833 438 832 444 828 450 821 448 816 443 809 436 803 430 796 423 789 416 785 408 781 402Z" fill="#d6556d"/>
<path d="M823 464 827 458 835 455 844 455 852 458 856 463 856 470 859 476 862 484 863 491 868 496 876 498 881 502 881 507 876 512 868 515 860 515 853 511 847 504 841 496 836 490 831 483 827 475 823 470Z" fill="#d6556d"/>
<path d="M771 551 775 546 779 542 783 547 788 554 795 558 803 561 801 567 799 570 793 566 787 562 779 558 773 556Z" fill="#d6556d"/>
<path d="M753 582 759 574 765 569 770 572 764 578 760 584 761 591 759 595 755 595 753 588Z" fill="#d6556d"/>
<path d="M778 584 783 580 789 582 796 587 801 591 807 595 783 595 779 590Z" fill="#d6556d"/>
<path d="M811 595 816 588 823 582 828 575 833 570 839 571 844 575 841 580 839 586 843 591 847 595Z" fill="#d6556d"/>
<path d="M848 490 851 487 854 490 852 495 849 496Z" fill="#bf3984"/>
<path d="M855 503 857 502 863 506 866 509 863 510 858 507Z" fill="#bf3984"/>
<path d="M842 464 845 463 845 465 842 465Z" fill="#bf3984"/>
<path d="M520 575 880 575 880 875 520 875Z" fill="#ea7457"/>
<path d="M520 575 546 575 554 583 558 595 557 611 556 625 560 633 570 635 578 633 582 641 580 651 578 661 564 663 561 671 563 681 568 691 574 703 578 715 579 727 580 741 576 751 572 757 580 761 590 763 594 751 600 745 610 739 618 733 618 725 610 719 606 713 604 703 608 693 614 683 620 675 628 673 630 665 628 659 631 653 640 652 646 657 648 667 645 679 642 689 642 699 650 703 660 701 668 693 678 687 682 691 678 699 674 706 684 703 692 700 700 703 710 705 720 711 728 719 734 727 728 733 722 741 730 745 740 741 748 735 760 731 768 727 771 719 766 713 763 706 772 707 784 711 800 715 814 719 826 721 838 727 848 731 850 741 858 749 864 755 858 761 848 765 846 773 856 779 868 781 880 779 880 875 520 875Z" fill="#f89540"/>
<path d="M573 613 580 603 590 593 600 583 606 575 618 575 614 585 606 595 598 605 588 613 578 615Z" fill="#f89540"/>
<path d="M596 615 602 611 610 612 612 617 606 623 598 622Z" fill="#f89540"/>
<path d="M674 575 720 575 712 583 704 593 696 603 690 615 680 625 670 635 664 643 652 645 644 643 636 633 626 629 616 633 606 641 596 645 586 646 578 644 568 641 570 635 580 637 590 635 600 633 610 629 620 625 632 626 644 629 656 628 664 621 670 611 672 597 676 587Z" fill="#f89540"/>
<path d="M724 581 730 575 740 575 740 583 734 589 727 591Z" fill="#f89540"/>
<path d="M738 613 744 605 746 617 740 617Z" fill="#f89540"/>
<path d="M844 681 856 673 870 671 880 673 880 703 868 699 856 693 848 687Z" fill="#f89540"/>
<path d="M520 669 526 673 532 687 536 699 534 709 524 713 520 705Z" fill="#ea7457"/>
<path d="M534 851 540 839 550 833 558 831 560 819 568 815 578 817 580 831 580 847 574 857 566 863 558 857 552 849 544 845Z" fill="#ea7457"/>
<path d="M589 861 590 853 594 839 600 841 610 849 616 861 620 875 608 875 598 867Z" fill="#ea7457"/>
<path d="M717 757 720 756 724 761 722 765 718 762Z" fill="#ea7457"/>
<path d="M660 675 667 674 665 681 660 683Z" fill="#d6556d"/>
<path d="M695 682 701 678 706 685 712 691 716 697 713 701 706 699 700 691Z" fill="#d6556d"/>
<path d="M734 690 738 686 743 692 739 696Z" fill="#d6556d"/>
<path d="M743 713 749 707 756 711 759 718 756 725 750 727 745 721Z" fill="#d6556d"/>
<path d="M761 653 768 649 776 653 777 659 770 662 763 658Z" fill="#d6556d"/>
<path d="M860 711 868 715 880 723 880 747 874 739 868 727 862 717Z" fill="#d6556d"/>
<path d="M832 570 837 568 843 571 845 575 840 582 845 590 853 596 860 603 861 608 853 612 852 619 859 622 867 626 871 631 871 636 865 640 867 646 873 648 880 646 888 643 895 646 893 650 887 656 880 662 872 662 867 658 864 651 861 644 853 640 845 643 837 643 829 639 825 632 823 624 817 618 811 611 803 603 795 595 787 590 780 586 779 580 787 580 795 586 803 592 809 591 815 584 821 578 827 572Z" fill="#d6556d"/>
<path d="M771 548 779 542 785 548 792 555 801 562 800 568 795 568 787 562 777 556 772 554Z" fill="#d6556d"/>
<path d="M753 571 760 572 765 568 769 572 767 578 763 584 768 592 776 600 783 607 785 616 789 626 797 631 803 638 804 644 799 647 791 643 783 638 777 631 776 622 771 612 764 607 760 604 753 595Z" fill="#d6556d"/>
<path d="M761 654 767 649 773 650 777 655 776 660 772 662 765 660Z" fill="#d6556d"/>
<path d="M763 683 768 679 776 680 784 679 789 674 796 674 792 680 791 687 800 688 808 690 813 694 820 692 827 687 835 687 841 691 847 699 848 704 843 707 837 711 832 707 824 702 817 702 813 707 805 710 797 708 787 704 779 699 775 692 767 688Z" fill="#d6556d"/>
<path d="M896 622 900 620 905 622 905 626 900 627 897 625Z" fill="#d6556d"/>
<path d="M833 694 837 694 838 698 835 700Z" fill="#bf3984"/>
<path d="M552 699 555 695 557 701 555 707 553 705Z" fill="#feba2c"/>
<path d="M539 747 541 739 546 727 549 733 550 745 549 753 540 754Z" fill="#feba2c"/>
<path d="M686 753 692 751 697 757 701 767 705 777 707 783 703 787 699 779 694 767 690 759Z" fill="#feba2c"/>
<path d="M720 786 726 786 726 788 720 788Z" fill="#feba2c"/>
<path d="M748 767 760 764 772 762 786 764 796 769 799 759 802 745 809 745 806 757 802 769 794 777 787 786 782 782 775 787 766 792 758 797 750 797 747 791 750 781 751 773Z" fill="#feba2c"/>
<path d="M307.1 200.5V1315.5M225.5 282.1H1341.5M479.9 200.5V1315.5M225.5 454.9H1341.5M652.7 200.5V1315.5M225.5 627.7H1341.5M825.5 200.5V1315.5M225.5 800.5H1341.5M998.3 200.5V1315.5M225.5 973.3H1341.5M1171.1 200.5V1315.5M225.5 1146.1H1341.5" stroke="#a0a0a0" stroke-opacity="0.33" stroke-width="1.7" fill="none"/>
<path d="M282.0 202.0 288.0 208.0 280.0 210.0 268.0 217.0 266.0 231.0 265.0 243.0 278.0 245.0 280.0 251.0 277.0 254.0 283.0 258.0 284.0 267.0 280.0 274.0 266.0 286.0 275.0 294.0 288.0 286.0 300.0 279.0 312.0 274.0 324.0 271.0 336.0 272.0 348.0 270.6 358.0 274.6 368.0 272.0 382.0 269.4 383.0 273.0 374.0 280.0 365.0 284.0 365.0 299.0 375.0 301.0 378.0 313.0 381.0 317.0 376.0 322.0 377.0 327.0 383.0 329.0 385.0 338.0 382.0 340.0 385.0 343.0 382.0 353.0 396.0 354.0 400.0 359.0 411.0 360.0 413.0 363.0 422.0 357.0 428.0 361.0 436.0 362.0 437.0 369.0 440.0 374.0 430.0 374.0 428.0 383.0 421.0 389.0 424.0 401.0 423.0 412.0 415.0 421.0 412.0 431.0 407.0 440.0 412.0 444.0 422.0 445.0 430.0 443.0 440.0 445.0 451.0 448.0 453.0 451.0 456.0 448.0 460.0 449.0M460.0 449.0 474.0 451.0 475.0 464.0 479.0 475.0 490.0 483.0 493.0 485.0 489.0 492.0 495.0 502.0 503.0 498.0 509.0 495.0 516.0 499.0 520.0 501.0 532.0 500.0 542.0 495.0 550.0 487.0 558.0 482.0 568.0 478.0 575.0 475.0 578.0 477.0 580.0 493.0 583.0 505.0 585.0 513.0 588.0 523.0 592.0 525.0 600.0 522.0 608.0 520.0 616.0 521.0 618.0 525.0 624.0 524.0 628.0 528.0 634.0 526.0 637.0 521.0 631.0 517.0 629.0 505.0 631.0 493.0 636.0 488.0 631.0 481.0 630.0 471.0 624.0 463.0 618.0 453.0 614.0 445.0M580.0 494.0 572.0 500.0 560.0 507.0 550.0 514.0 543.0 514.0 540.0 525.0 536.0 533.0 527.0 539.0 526.0 549.0 536.0 551.0 528.0 556.0 516.0 556.0 506.0 562.0 498.0 570.0 493.0 579.0 491.0 589.0 489.0 599.0 492.0 605.0 497.0 597.0 503.0 594.0 510.0 596.0 516.0 605.0 522.0 611.0 527.0 614.0 527.0 623.0 522.0 633.0 514.0 645.0 515.0 653.0 520.0 663.0 526.0 669.0 531.0 667.0 544.0 672.0 554.0 662.0 564.0 661.0 576.0 664.0 585.0 663.0 588.0 667.0 582.0 677.0 584.0 689.0 586.0 699.0 592.0 709.0 594.0 712.0 588.0 723.0 586.0 733.0 586.0 745.0M737.0 495.0 729.0 501.0 727.0 504.0 732.0 503.0 724.0 515.0 722.0 519.0 730.0 521.0 735.0 531.0 744.0 545.0 752.0 553.0 760.0 555.0 772.0 559.0 780.0 557.0 790.0 563.0 798.0 570.0 804.0 563.0 808.0 554.0 820.0 550.0M611.0 433.0 622.0 431.0 623.0 417.0 630.0 411.0 634.0 413.0 640.0 421.0 646.0 417.0 654.0 416.0 663.0 418.0 668.0 419.0 672.0 418.0 686.0 400.0 684.0 397.0 689.0 395.0 691.0 388.0 698.0 390.0 702.0 394.0 716.0 399.0 724.0 404.0 729.0 412.0 739.0 417.0 744.0 415.0 743.0 411.0 751.0 408.0 752.0 401.0 766.0 387.0 772.0 390.0 775.0 398.0 781.0 404.0 786.0 399.0 788.0 390.0 795.0 386.0 800.0 390.0 823.0 410.0 826.0 395.0 830.0 387.0 846.0 383.0 847.0 390.0 856.0 395.0 874.0 383.0 877.0 384.0 888.0 383.0 897.0 375.0 895.0 360.0 901.0 354.0 908.0 353.0 920.0 348.0 932.0 345.0 933.0 339.0 940.0 337.0M663.0 418.0 666.0 427.0 676.0 435.0 686.0 443.0 694.0 453.0 695.0 459.0 704.0 463.0 708.0 471.0 709.0 483.0 714.0 484.0 720.0 481.0 721.0 469.0 724.0 470.0 725.0 479.0 735.0 477.0 737.0 487.0 738.0 495.0M611.0 433.0 614.0 445.0M940.0 337.0 948.0 345.0 958.0 357.0 960.0 361.0 970.0 363.0 978.0 369.0 986.0 375.0 998.0 371.0 1008.0 370.0 1017.0 375.0 1020.0 380.0 1028.0 380.0 1040.0 376.0 1044.0 375.0 1050.0 380.0 1055.0 379.0 1068.0 387.0 1062.0 395.0 1057.0 405.0 1053.0 404.0 1049.0 403.0 1045.0 415.0 1046.0 425.0 1053.0 427.0 1055.0 437.0 1054.8 440.0M820.0 549.0 830.0 544.0 844.0 547.0 854.0 555.0 863.0 559.0 868.0 565.0 879.0 571.0 874.0 579.0 866.0 582.0 858.0 588.0 874.0 591.0 880.0 596.0 885.0 600.0 884.0 607.0 891.0 609.0 901.0 610.0 909.0 620.0 904.0 628.0 898.0 633.0 892.0 639.0 897.0 644.0 891.0 650.0 882.0 657.0 879.0 661.0 870.0 661.0 858.0 655.0 846.0 653.0 836.0 655.0 826.0 655.0 825.0 657.0 829.0 665.0 834.0 670.0 831.0 676.0 820.0 682.0 814.0 685.0 813.0 688.0 820.0 692.0 830.0 695.0 842.0 703.0 860.0 713.0 872.0 721.0 886.0 729.0 900.0 733.0 910.0 735.0 924.0 743.0 927.0 747.0 920.0 753.0 920.0 763.0 928.0 773.0 935.0 779.0 940.0 785.0M1040.0 609.0 1033.0 609.0 1028.0 613.0 1018.0 623.0 1007.0 628.0 1001.0 627.0 995.0 633.0 992.0 643.0 987.0 649.0 988.0 653.0 982.0 661.0 983.0 676.0 979.0 678.0 982.0 687.0 976.0 693.0 974.0 704.0 968.0 707.0 965.0 713.0 968.0 723.0 973.0 727.0 978.0 735.0 980.0 743.0M1280.0 501.0 1292.0 500.0 1304.0 497.0 1306.0 489.0 1298.0 484.0 1306.0 476.0 1309.0 483.0 1314.0 491.0 1322.0 499.0 1332.0 499.0 1341.0 498.0M1341.0 504.0 1326.0 510.0 1324.0 523.0 1318.0 527.0 1317.0 535.0 1316.0 547.0 1320.0 555.0 1326.0 561.0 1324.0 571.0 1330.0 577.0 1334.0 585.0 1339.0 587.0 1334.0 595.0 1339.0 605.0M1272.0 653.0 1272.0 644.0 1280.0 635.0 1288.0 636.0 1300.0 639.0 1308.0 634.0 1316.0 627.0 1330.0 629.0 1341.0 628.0M1274.0 651.0 1260.0 661.0 1252.0 671.0 1240.0 677.0 1230.0 682.0 1226.0 691.0 1230.0 699.0 1225.0 705.0 1227.0 717.0 1226.0 727.0 1231.0 735.0 1232.0 747.0 1230.0 755.0 1240.0 759.0 1250.0 763.0 1258.0 768.0 1270.0 769.0 1272.0 775.0 1288.0 774.0 1300.0 777.0 1306.0 783.0 1316.0 781.0 1320.0 773.0 1322.0 765.0 1332.0 765.0 1341.0 764.0M982.0 745.0 988.0 753.0 996.0 763.0 1007.0 776.0 1014.0 777.0 1024.0 785.0 1028.0 792.0 1036.0 791.0 1038.0 798.0 1044.0 804.0 1037.0 811.0 1039.0 821.0 1042.0 827.0 1052.0 841.0 1064.0 853.0 1080.0 865.0 1094.0 877.0 1097.0 885.0 1104.0 895.0 1116.0 905.0 1128.0 915.0 1140.0 923.0 1152.0 935.0 1157.0 940.0 1155.0 945.0 1162.0 948.0 1166.0 943.0 1174.0 944.0 1178.0 951.0 1188.0 955.0 1185.0 963.0 1192.0 967.0 1195.0 973.0 1204.0 982.0 1208.0 991.0 1216.0 1005.0 1226.0 1019.0 1234.0 1025.0 1242.0 1027.0 1246.0 1037.0 1252.0 1039.0 1250.0 1045.0M940.0 785.0 948.0 783.0 954.0 788.0 962.0 799.0 966.0 809.0 972.0 819.0 980.0 829.0 990.0 839.0 1000.0 849.0 1016.0 863.0 1022.0 862.0 1025.0 871.0 1032.0 881.0 1038.0 888.0 1044.0 889.0 1045.0 905.0 1046.0 915.0 1053.0 921.0 1056.0 932.0 1062.0 936.0 1070.0 927.0 1073.0 933.0 1080.0 943.0 1088.0 947.0 1094.0 948.0 1098.0 955.0 1106.0 961.0 1114.0 967.0 1122.0 967.0 1123.0 973.0 1114.0 979.0 1104.0 983.0 1098.0 991.0 1102.0 995.0 1106.0 1003.0 1116.0 1013.0 1124.0 1017.0 1128.0 1025.0 1138.0 1031.0 1142.0 1037.0 1141.0 1045.0M940.0 971.0 948.0 973.0 944.0 979.0 946.0 991.0 960.0 995.0 968.0 1003.0 966.0 1019.0 954.0 1029.0 959.0 1035.0 950.0 1045.0M580.0 843.0 592.0 829.0 606.0 821.0 616.0 813.0 630.0 808.0 634.0 794.0 644.0 797.0 660.0 782.0 668.0 783.0 674.0 790.0 688.0 799.0 700.0 803.0 705.0 804.0 705.0 813.0 711.0 816.0 712.0 811.0 728.0 802.0 736.0 799.0 742.0 801.0 746.0 798.0 746.0 790.0 751.0 785.0 752.0 778.0 764.0 775.0 760.0 769.0 764.0 764.0 774.0 762.0 786.0 764.0 800.0 770.0 810.0 771.0 815.0 775.0 820.0 771.0 826.0 772.0 834.0 785.0 844.0 797.0 850.0 809.0 860.0 819.0 866.0 829.0 876.0 835.0 888.0 841.0 895.0 851.0 897.0 865.0 895.0 875.0 890.0 887.0 892.0 897.0 892.0 909.0 891.0 925.0 900.0 933.0 908.0 943.0 914.0 949.0 916.0 961.0 924.0 966.0 940.0 969.0M586.0 745.0 573.0 755.0 580.0 772.0 578.0 795.0 580.0 799.0M489.0 604.0 488.0 599.0 482.0 593.0 474.0 589.0 466.0 591.0 462.0 597.0 452.0 600.0 440.0 597.0 430.0 594.0 436.0 601.0 440.0 611.0 432.0 617.0 420.0 621.0 412.0 617.0 404.0 617.0 396.0 625.0 394.0 639.0 386.0 649.0 378.0 644.0 368.0 648.0 356.0 653.0 344.0 654.0 328.0 656.0 324.0 651.0 312.0 645.0 309.0 644.0 308.0 657.0 300.0 661.0 294.0 665.0 288.0 679.0 290.0 689.0 292.0 699.0 288.0 707.0 280.0 717.0 278.0 721.0 283.0 727.0 286.0 749.0 276.0 752.0 264.0 757.0 257.0 757.0 252.0 753.0 259.0 767.0 264.0 775.0 270.0 771.0 275.0 774.0 278.0 785.0 282.0 795.0M282.0 795.0 286.0 803.0 280.0 814.0 286.0 825.0 296.0 835.0 306.0 843.0 316.0 855.0 326.0 867.0 332.0 877.0 340.0 883.0 348.0 891.0 351.0 897.0 348.0 905.0 352.0 913.0 358.0 923.0 364.0 943.0 366.0 949.0 374.0 941.0 380.0 933.0 385.0 939.0 383.0 951.0 378.0 961.0 368.0 962.0 360.0 968.0 356.0 971.0 358.0 985.0 356.0 997.0 354.0 1011.0 356.0 1025.0 348.0 1028.0 342.0 1027.0 340.0 1035.0 332.0 1035.0 323.0 1040.0 321.6 1045.0M227.0 865.0 232.0 875.0 242.0 877.0 238.0 885.0 240.0 899.0 242.0 907.0 250.0 915.0 253.0 931.0 266.0 927.0 280.0 926.0 284.0 923.0 275.0 928.0 277.0 947.0 272.0 965.0 270.0 971.0 280.0 981.0 284.0 987.0 285.0 1003.0 289.0 1021.0 284.0 1029.0 288.0 1039.0 291.0 1043.0 290.4 1045.0M266.0 927.0 261.0 935.0 262.0 945.0 267.0 955.0 271.0 953.0 273.0 939.0 274.0 928.0M580.0 799.0 568.0 807.0 564.0 819.0 557.0 837.0 568.0 843.0 580.0 846.0M290.0 1045.0 288.0 1057.0 291.0 1071.0 296.0 1083.0 304.0 1081.0 308.0 1089.0 298.0 1088.0 304.0 1103.0 308.0 1115.0 316.0 1131.0 314.0 1143.0 316.0 1159.0 316.0 1169.0 322.0 1183.0 324.0 1171.0 326.0 1153.0 324.0 1140.0 329.0 1149.0 330.0 1169.0 340.0 1181.0 348.0 1197.0 352.0 1211.0 358.0 1219.0 360.0 1235.0 364.0 1253.0 366.0 1257.0 364.0 1265.0 369.0 1273.0 360.0 1277.0 366.0 1285.0 369.0 1291.0 358.0 1295.0 356.0 1299.0 368.0 1301.0 364.0 1309.0 368.0 1315.0M322.0 1045.0 324.0 1057.0 328.0 1073.0 340.0 1089.0 350.0 1103.0 360.0 1119.0 368.0 1123.0 380.0 1133.0 390.0 1139.0 396.0 1149.0 404.0 1159.0 408.0 1173.0 410.0 1201.0 408.0 1213.0 402.0 1217.0 402.0 1227.0 408.0 1235.0 410.0 1245.0 418.0 1257.0 426.0 1265.0 429.0 1273.0 430.0 1289.0 435.0 1305.0 441.0 1306.0 439.0 1315.0M475.0 1315.0 480.0 1305.0 481.0 1285.0 477.0 1265.0 480.0 1245.0 488.0 1229.0 484.0 1215.0 477.0 1207.0 480.0 1201.0 486.0 1197.0 504.0 1188.0 508.0 1189.0 530.0 1186.0 531.0 1179.0 533.0 1185.0 550.0 1189.0 566.0 1190.0 566.0 1197.0 560.0 1205.0 562.0 1215.0 558.0 1225.0 562.0 1233.0 556.0 1239.0 560.0 1247.0 554.0 1257.0 554.0 1262.0 564.0 1266.0 568.0 1261.0 580.0 1259.0M329.0 1215.0 332.0 1213.0 335.0 1225.0 337.0 1227.0 334.0 1237.0 331.0 1225.0ZM335.0 1261.0 340.0 1259.0 345.0 1265.0 348.0 1273.0 351.0 1283.0 346.0 1284.0 340.0 1289.0 335.0 1288.0 338.0 1279.0 336.0 1269.0ZM327.0 1271.0 330.0 1269.0 332.0 1273.0 329.0 1276.0ZM302.0 1287.0 308.0 1284.0 316.0 1282.0 314.0 1288.0 308.0 1293.0 304.0 1292.0ZM310.0 1297.0 316.0 1294.0 319.0 1299.0 318.0 1305.0 313.0 1303.0ZM293.0 1249.0 295.6 1249.0 295.6 1252.0 293.0 1252.0ZM292.4 1267.0 295.0 1267.0 295.0 1271.0 292.4 1271.0ZM580.0 1260.0 592.0 1263.0 602.0 1267.0 606.0 1264.0 622.0 1262.0 626.0 1257.0 634.0 1258.0 642.0 1265.0 648.0 1269.0 656.0 1274.0 664.0 1281.0 674.0 1287.0 678.0 1297.0 678.0 1301.0 688.0 1303.0 698.0 1307.0 702.0 1314.0M718.0 1313.0 714.0 1303.0 716.0 1291.0 719.0 1281.0 712.0 1273.0 702.0 1265.0 694.0 1259.0 696.0 1249.0 693.0 1237.0 695.0 1233.0 688.0 1223.0 682.0 1209.0 679.6 1185.0 682.0 1183.0 700.0 1182.0 705.0 1179.0 700.0 1175.0 706.0 1171.0 713.0 1166.0 718.0 1155.0 728.0 1143.0 730.0 1131.0 733.0 1127.0 748.0 1118.0 760.0 1115.0 772.0 1114.0 784.0 1110.0 795.0 1107.0 797.0 1111.0 806.0 1113.0 816.0 1116.0 826.0 1115.0 840.0 1112.0 844.0 1111.0 860.0 1114.0 874.0 1114.0 876.0 1110.0 892.0 1108.0 908.0 1111.0 911.0 1121.0 916.0 1127.0 923.0 1125.0 927.0 1116.0 940.0 1112.0M928.0 1116.0 932.0 1125.0 940.0 1133.0M674.0 1305.0 678.0 1304.0 686.0 1314.0 680.0 1314.0ZM700.0 1303.0 705.0 1299.0 710.0 1307.0 708.0 1313.0 702.0 1313.0ZM940.0 1112.0 948.0 1109.0 953.0 1101.0 956.0 1085.0 955.0 1073.0 963.0 1060.0 955.0 1052.0 950.0 1045.0M940.0 1133.0 948.0 1136.0 960.0 1132.0 976.0 1139.0 984.0 1147.0 994.0 1153.0 1005.0 1152.0 1011.0 1141.0 1004.0 1131.0 1000.0 1121.0 996.0 1116.0 1004.0 1114.0 1017.0 1111.0 1019.0 1104.0 1034.0 1105.0 1036.0 1099.0 1043.0 1095.0 1046.0 1100.0 1060.0 1111.0 1070.0 1119.0 1080.0 1115.0 1088.0 1109.0 1100.0 1103.0 1110.0 1094.0 1120.0 1097.0 1129.0 1087.0M1140.0 1045.0 1132.0 1053.0 1125.0 1057.0 1129.0 1068.0 1133.0 1069.0 1128.0 1075.0 1130.0 1086.0 1126.0 1099.0 1124.0 1107.0 1117.0 1111.0 1114.0 1125.0 1113.0 1134.0 1116.0 1145.0 1122.0 1147.0 1123.0 1161.0 1132.0 1175.0 1137.0 1185.0 1138.0 1197.0 1132.0 1211.0 1126.0 1225.0 1125.0 1233.0 1129.0 1245.0 1132.0 1255.0 1134.0 1265.0 1133.0 1281.0 1128.0 1289.0 1120.0 1296.0 1114.0 1291.0 1106.0 1290.0 1096.0 1295.0 1084.0 1307.0 1078.0 1312.0 1064.0 1313.0M1246.0 1045.0 1250.0 1055.0 1260.0 1075.0 1265.0 1087.0 1264.0 1097.0 1270.0 1111.0 1276.0 1129.0 1280.0 1145.0 1282.0 1157.0 1278.0 1165.0 1282.0 1177.0 1280.0 1185.0 1286.0 1193.0 1284.0 1211.0 1290.0 1225.0 1298.0 1241.0 1292.0 1249.0 1284.0 1255.0 1276.0 1265.0 1280.0 1271.0 1288.0 1281.0 1280.0 1287.0 1272.0 1281.0 1278.0 1295.0 1276.0 1305.0 1276.0 1314.0M1054.7 440.0 1056.7 446.7 1054.7 454.7 1060.0 453.3 1066.7 456.0 1073.3 460.0 1080.0 461.3 1085.3 462.7 1086.7 468.0 1085.3 470.7 1093.3 474.7 1100.0 478.7 1106.7 478.7 1112.0 482.7 1114.7 486.7 1118.7 487.3 1122.7 484.7 1125.3 489.3 1130.7 490.0 1138.7 487.3 1146.7 484.7 1153.3 484.0 1158.7 486.0 1164.0 493.3 1168.0 497.3 1170.0 501.3M1170.0 501.3 1165.3 502.7 1164.0 496.0 1160.0 494.7 1153.3 496.0 1150.7 497.3 1153.3 500.0 1149.3 502.7 1146.7 506.7 1141.3 508.0 1138.7 512.0 1133.3 510.7 1129.3 512.7 1125.3 513.3 1121.3 512.7 1117.3 517.3 1116.0 524.0 1118.7 530.7 1116.7 536.0 1118.7 538.7 1114.7 540.0 1109.3 540.7 1104.0 542.7 1101.3 546.0 1097.3 546.7 1093.3 544.0 1089.3 541.3 1093.3 538.7 1097.3 538.0M1054.7 539.3 1061.3 538.7 1068.0 540.0 1070.0 544.0 1074.7 542.7 1080.0 545.3 1085.3 541.3 1090.7 539.3 1097.3 538.0 1093.3 541.3 1097.3 546.7 1093.3 545.3 1088.0 546.7 1084.0 550.7 1086.7 554.7 1090.7 556.0 1094.7 558.0 1091.3 564.7 1088.0 565.3 1084.0 561.3 1078.7 557.3 1073.3 558.7 1068.7 553.3 1066.7 546.7 1060.0 544.0ZM1060.0 544.0 1065.3 548.0 1061.3 550.7 1066.7 553.3 1072.0 550.7 1074.7 556.0 1070.7 554.7M1074.7 546.7 1080.0 550.7 1078.7 554.7M1066.7 553.3 1062.7 556.0 1064.0 560.0 1066.7 564.0 1068.0 568.7 1064.0 566.7 1060.0 565.3 1056.0 568.0 1057.3 570.7 1053.3 570.7 1049.3 570.0 1052.0 573.3 1048.0 576.0 1050.7 579.3 1045.3 580.0 1042.7 581.3 1048.0 585.3 1050.0 589.3 1045.3 590.7 1044.0 594.7 1049.3 597.3 1046.7 601.3 1042.7 602.0 1049.3 605.3 1048.0 608.7 1040.0 609.3M1116.7 516.7 1122.7 512.7 1126.7 518.0 1132.0 522.7 1138.0 522.0 1133.3 526.7 1128.0 530.7 1122.7 534.7 1117.3 537.3 1115.3 532.0 1116.7 525.3ZM1121.3 514.7 1120.0 522.7 1118.0 530.7M1146.7 514.0 1153.3 510.0 1160.0 507.3 1166.7 505.3 1171.3 505.3 1170.0 507.3 1162.7 510.0 1156.0 512.7 1149.3 515.3ZM1113.3 550.7 1120.0 548.7 1125.3 545.3 1130.7 540.0 1133.3 536.0 1137.3 532.0 1140.0 530.7 1138.7 536.0 1136.0 541.3 1133.3 546.7 1130.7 550.7 1126.7 556.0 1124.7 557.3 1126.7 552.0 1128.7 546.7 1125.3 549.3 1120.0 552.0 1118.0 556.0 1118.7 558.0 1115.3 557.3 1114.0 554.0ZM1148.0 545.3 1150.7 541.3 1154.7 539.3 1159.3 538.0 1157.3 542.0 1153.3 543.3 1150.7 546.0ZM1170.0 501.3 1174.7 498.7 1178.7 498.0 1176.0 496.0 1181.3 493.3 1186.7 491.3 1192.0 486.0 1190.7 492.7 1189.3 497.3 1193.3 496.0 1197.3 490.7 1200.0 485.3 1201.3 478.7 1204.0 482.7 1208.0 485.3 1205.3 490.0 1209.3 492.0 1214.7 488.7 1218.7 484.0 1220.0 480.0 1216.0 477.3 1213.3 480.0 1213.3 474.7 1214.7 469.3 1212.0 465.3 1212.0 460.0 1217.3 462.0 1220.0 458.7 1224.0 461.3 1226.0 465.3 1222.7 470.7 1225.3 474.7 1229.3 472.0 1232.0 476.0 1234.7 480.0 1237.3 484.0 1236.0 487.3 1240.0 482.7 1241.3 478.7 1238.7 474.7 1240.0 470.7 1245.3 470.0 1250.7 474.7 1246.7 477.3 1245.3 482.7 1248.0 485.3 1252.0 484.0 1256.0 486.7 1261.3 487.3 1265.3 486.0 1270.0 489.3 1270.7 497.3 1266.7 498.7 1262.7 499.3 1261.3 502.7 1265.3 504.7 1270.7 506.0 1276.0 503.3 1280.0 500.7M1264.9 536.9 1266.0 534.9 1268.0 534.4 1269.6 536.0 1269.3 538.4 1267.3 539.5 1265.6 538.7Z" stroke="#000" stroke-width="2.1" fill="none" stroke-linejoin="round" stroke-linecap="round"/>
</g>
<rect x="225.5" y="200.5" width="1116.0" height="1115.0" fill="none" stroke="#000" stroke-width="3.3"/>
<rect x="1410.5" y="233.00" width="58.0" height="105.50" fill="#f7e425"/>
<rect x="1410.5" y="338.00" width="58.0" height="105.50" fill="#feba2c"/>
<rect x="1410.5" y="443.00" width="58.0" height="105.50" fill="#f89540"/>
<rect x="1410.5" y="548.00" width="58.0" height="105.50" fill="#ea7457"/>
<rect x="1410.5" y="653.00" width="58.0" height="105.50" fill="#d6556d"/>
<rect x="1410.5" y="758.00" width="58.0" height="105.50" fill="#bf3984"/>
<rect x="1410.5" y="863.00" width="58.0" height="105.50" fill="#a11b9b"/>
<rect x="1410.5" y="968.00" width="58.0" height="105.50" fill="#7e03a8"/>
<rect x="1410.5" y="1073.00" width="58.0" height="105.50" fill="#5601a4"/>
<rect x="1410.5" y="1178.00" width="58.0" height="105.50" fill="#2a0593"/>
<polygon points="1410.5,233.3 1439.5,180.5 1468.5,233.3" fill="#f0f921"/>
<polygon points="1410.5,1282.7 1439.5,1334.5 1468.5,1282.7" fill="#0d0887"/>
<polygon points="1410.5,233.0 1439.5,180.5 1468.5,233.0 1468.5,1283.0 1439.5,1334.5 1410.5,1283.0" fill="none" stroke="#000" stroke-width="3.3" stroke-linejoin="miter"/>
<line x1="1468.5" x2="1484.8" y1="338.00" y2="338.00" stroke="#000" stroke-width="3.3"/>
<line x1="1468.5" x2="1484.8" y1="548.00" y2="548.00" stroke="#000" stroke-width="3.3"/>
<line x1="1468.5" x2="1484.8" y1="758.00" y2="758.00" stroke="#000" stroke-width="3.3"/>
<line x1="1468.5" x2="1484.8" y1="968.00" y2="968.00" stroke="#000" stroke-width="3.3"/>
<line x1="1468.5" x2="1484.8" y1="1178.00" y2="1178.00" stroke="#000" stroke-width="3.3"/>
<text class="t" x="783" y="117">Temp(°C) @ 20250928_06</text>
<text class="t" x="798" y="175">Simulation Time: 20250926_12</text>
<text class="k" text-anchor="end" x="203.5" y="294.1">24°N</text>
<text class="k" text-anchor="end" x="203.5" y="466.9">22°N</text>
<text class="k" text-anchor="end" x="203.5" y="639.7">20°N</text>
<text class="k" text-anchor="end" x="203.5" y="812.5">18°N</text>
<text class="k" text-anchor="end" x="203.5" y="985.3">16°N</text>
<text class="k" text-anchor="end" x="203.5" y="1158.1">14°N</text>
<text class="k" text-anchor="middle" x="306.8" y="1369.6">98°E</text>
<text class="k" text-anchor="middle" x="479.6" y="1369.6">100°E</text>
<text class="k" text-anchor="middle" x="652.4" y="1369.6">102°E</text>
<text class="k" text-anchor="middle" x="825.2" y="1369.6">104°E</text>
<text class="k" text-anchor="middle" x="998.0" y="1369.6">106°E</text>
<text class="k" text-anchor="middle" x="1170.8" y="1369.6">108°E</text>
<text class="k" x="1498" y="352.0">40</text>
<text class="k" x="1498" y="562.0">30</text>
<text class="k" x="1498" y="772.0">20</text>
<text class="k" x="1498" y="982.0">10</text>
<text class="k" x="1498" y="1192.0">0</text>
</svg>
</body></html>
